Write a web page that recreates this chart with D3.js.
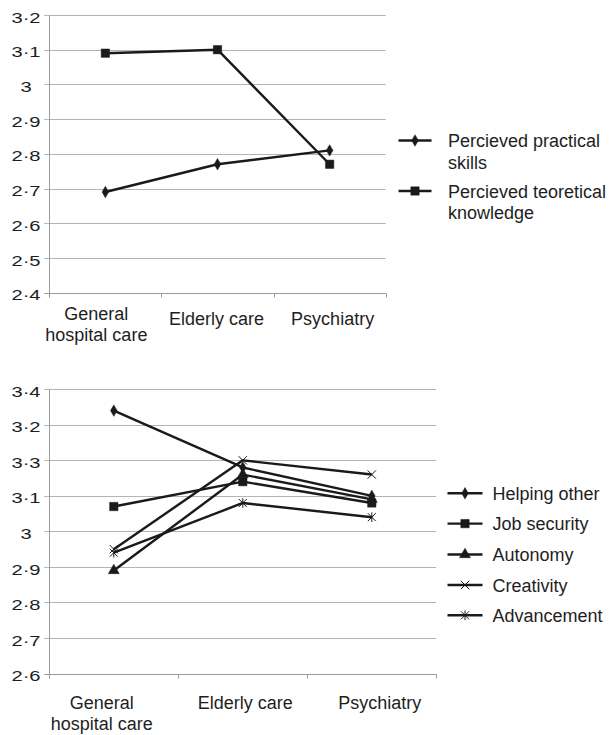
<!DOCTYPE html>
<html>
<head>
<meta charset="utf-8">
<script src="https://cdn.jsdelivr.net/npm/d3@7"></script>
<style>
  html, body { margin: 0; padding: 0; background: #fff; }
  svg { display: block; font-family: "Liberation Sans", Arial, sans-serif; }
</style>
</head>
<body>
<svg id="chart" width="609" height="735"></svg>
<script>
// ---------------- DATA ----------------
const categories = ["General hospital care", "Elderly care", "Psychiatry"];
const categoryLines = [["General", "hospital care"], ["Elderly care"], ["Psychiatry"]];

// Top chart
const topSeriesNames = ["Percieved practical skills", "Percieved teoretical knowledge"];
const legendTopLines = [["Percieved practical", "skills"], ["Percieved teoretical", "knowledge"]];
const practicalSkills = [2.69, 2.77, 2.81];
const theoreticalKnowledge = [3.09, 3.10, 2.77];
const topTickValues = [2.4, 2.5, 2.6, 2.7, 2.8, 2.9, 3.0, 3.1, 3.2];
const topTickLabels = ["2·4", "2·5", "2·6", "2·7", "2·8", "2·9", "3", "3·1", "3·2"];

// Bottom chart
const bottomSeriesNames = ["Helping other", "Job security", "Autonomy", "Creativity", "Advancement"];
const helpingOther = [3.34, 3.18, 3.10];
const jobSecurity = [3.07, 3.14, 3.08];
const autonomy = [2.89, 3.16, 3.09];
const creativity = [2.95, 3.20, 3.16];
const advancement = [2.94, 3.08, 3.04];
const bottomTickValues = [2.6, 2.7, 2.8, 2.9, 3.0, 3.1, 3.2, 3.3, 3.4];
const bottomTickLabels = ["2·6", "2·7", "2·8", "2·9", "3", "3·1", "3·3", "3·2", "3·4"];

// ---------------- SYMBOLS ----------------
const symX = { draw(ctx, size) { const r = Math.sqrt(size) / 2;
  ctx.moveTo(-r, -r); ctx.lineTo(r, r); ctx.moveTo(r, -r); ctx.lineTo(-r, r); } };
const symAst = { draw(ctx, size) { const r = Math.sqrt(size) / 2;
  ctx.moveTo(-r, -r); ctx.lineTo(r, r); ctx.moveTo(r, -r); ctx.lineTo(-r, r);
  ctx.moveTo(0, -r * 1.2); ctx.lineTo(0, r * 1.2); } };

const markers = {
  diamond: { type: d3.symbolDiamond, size: 38, fill: true },
  square: { type: d3.symbolSquare, size: 70, fill: true },
  triangle: { type: d3.symbolTriangle, size: 52, fill: true },
  x: { type: symX, size: 70, fill: false },
  asterisk: { type: symAst, size: 64, fill: false }
};

const ink = "#1a1a1a";
const textColor = "#1e1e1e";
const gridColor = "#b4b4b4";
const axisColor = "#9a9a9a";

const svg = d3.select("#chart");
svg.append("rect").attr("width", 609).attr("height", 735).attr("fill", "#fff");

function crisp(v) { return Math.round(v) + 0.5; }

function drawChart(cfg) {
  const g = svg.append("g");
  const x = d3.scaleBand().domain(categories).range([cfg.left, cfg.right]);
  const y = d3.scaleLinear().domain(cfg.domain).range([cfg.bottom, cfg.top]);

  // gridlines
  g.selectAll(".grid").data(cfg.tickValues.slice(1)).join("line")
    .attr("x1", cfg.left - 5).attr("x2", cfg.right)
    .attr("y1", d => crisp(y(d))).attr("y2", d => crisp(y(d)))
    .attr("stroke", gridColor).attr("stroke-width", 1);

  // left axis
  g.append("line").attr("x1", crisp(cfg.left)).attr("x2", crisp(cfg.left))
    .attr("y1", crisp(y(cfg.domain[1]))).attr("y2", crisp(cfg.bottom) + 4)
    .attr("stroke", axisColor);
  // bottom axis
  g.append("line").attr("x1", cfg.left - 5).attr("x2", cfg.right + 0.5)
    .attr("y1", crisp(cfg.bottom)).attr("y2", crisp(cfg.bottom))
    .attr("stroke", axisColor);
  // category ticks
  const bounds = categories.map(c => x(c)).concat([cfg.right]);
  g.selectAll(".xt").data(bounds).join("line")
    .attr("x1", d => crisp(d)).attr("x2", d => crisp(d))
    .attr("y1", crisp(cfg.bottom)).attr("y2", crisp(cfg.bottom) + 4)
    .attr("stroke", axisColor);

  // y tick labels
  g.selectAll(".yl").data(cfg.tickValues).join("text")
    .attr("transform", d => `translate(26,${y(d) + 7.6}) scale(1.3,1)`)
    .attr("text-anchor", "middle")
    .attr("font-size", 15.5).attr("fill", textColor)
    .text((d, i) => cfg.tickLabels[i]);

  // category labels
  categories.forEach((c, i) => {
    const lines = categoryLines[i];
    const cx = x(c) + x.bandwidth() / 2 + cfg.labelDx[i];
    const t = g.append("text").attr("text-anchor", "middle")
      .attr("font-size", 18).attr("fill", textColor);
    lines.forEach((ln, j) => {
      t.append("tspan").attr("x", cx)
        .attr("y", (lines.length > 1 ? cfg.labelY2 : cfg.labelY1) + j * 21)
        .text(ln);
    });
  });

  // series
  const line = d3.line().x((d, i) => x(categories[i]) + x.bandwidth() / 2).y(d => y(d));
  cfg.series.forEach(s => {
    g.append("path").datum(s.values).attr("d", line)
      .attr("fill", "none").attr("stroke", ink).attr("stroke-width", 2.4)
      .attr("stroke-linejoin", "round");
    const m = markers[s.marker];
    g.selectAll(null).data(s.values).join("path")
      .attr("transform", (d, i) => `translate(${x(categories[i]) + x.bandwidth() / 2},${y(d)})`)
      .attr("d", d3.symbol().type(m.type).size(m.size))
      .attr("fill", m.fill ? ink : "none")
      .attr("stroke", ink).attr("stroke-width", m.fill ? 0.5 : 1);
  });

  // legend
  cfg.legend.forEach((item, i) => {
    const ly = cfg.legendY[i];
    g.append("line").attr("x1", cfg.legendX0).attr("x2", cfg.legendX1)
      .attr("y1", ly).attr("y2", ly).attr("stroke", ink).attr("stroke-width", 2.4);
    const m = markers[item.marker];
    g.append("path").attr("transform", `translate(${(cfg.legendX0 + cfg.legendX1) / 2},${ly})`)
      .attr("d", d3.symbol().type(m.type).size(m.size))
      .attr("fill", m.fill ? ink : "none")
      .attr("stroke", ink).attr("stroke-width", m.fill ? 0.5 : 1);
    const t = g.append("text").attr("font-size", 18).attr("fill", textColor);
    item.lines.forEach((ln, j) => {
      t.append("tspan").attr("x", cfg.legendTextX).attr("y", ly + 6.5 + j * 21.5).text(ln);
    });
  });
}

drawChart({
  left: 49.3, right: 385.7, top: 15, bottom: 292.7,
  domain: [2.4, 3.2], tickValues: topTickValues, tickLabels: topTickLabels,
  labelY1: 325, labelY2: 320, labelDx: [-9, -1, 3],
  series: [
    { name: topSeriesNames[0], values: practicalSkills, marker: "diamond" },
    { name: topSeriesNames[1], values: theoreticalKnowledge, marker: "square" }
  ],
  legend: [
    { lines: legendTopLines[0], marker: "diamond" },
    { lines: legendTopLines[1], marker: "square" }
  ],
  legendY: [140.5, 191], legendX0: 398.5, legendX1: 431.5, legendTextX: 448
});

drawChart({
  left: 49.3, right: 436.3, top: 389.3, bottom: 673.5,
  domain: [2.6, 3.4], tickValues: bottomTickValues, tickLabels: bottomTickLabels,
  labelY1: 708.5, labelY2: 708.5, labelDx: [-12, 2.5, 8],
  series: [
    { name: bottomSeriesNames[0], values: helpingOther, marker: "diamond" },
    { name: bottomSeriesNames[1], values: jobSecurity, marker: "square" },
    { name: bottomSeriesNames[2], values: autonomy, marker: "triangle" },
    { name: bottomSeriesNames[3], values: creativity, marker: "x" },
    { name: bottomSeriesNames[4], values: advancement, marker: "asterisk" }
  ],
  legend: bottomSeriesNames.map((n, i) => ({ lines: [n], marker: ["diamond", "square", "triangle", "x", "asterisk"][i] })),
  legendY: [493.3, 523.6, 554.5, 585, 615.3], legendX0: 447.5, legendX1: 482.5, legendTextX: 492.5
});
</script>
</body>
</html>
